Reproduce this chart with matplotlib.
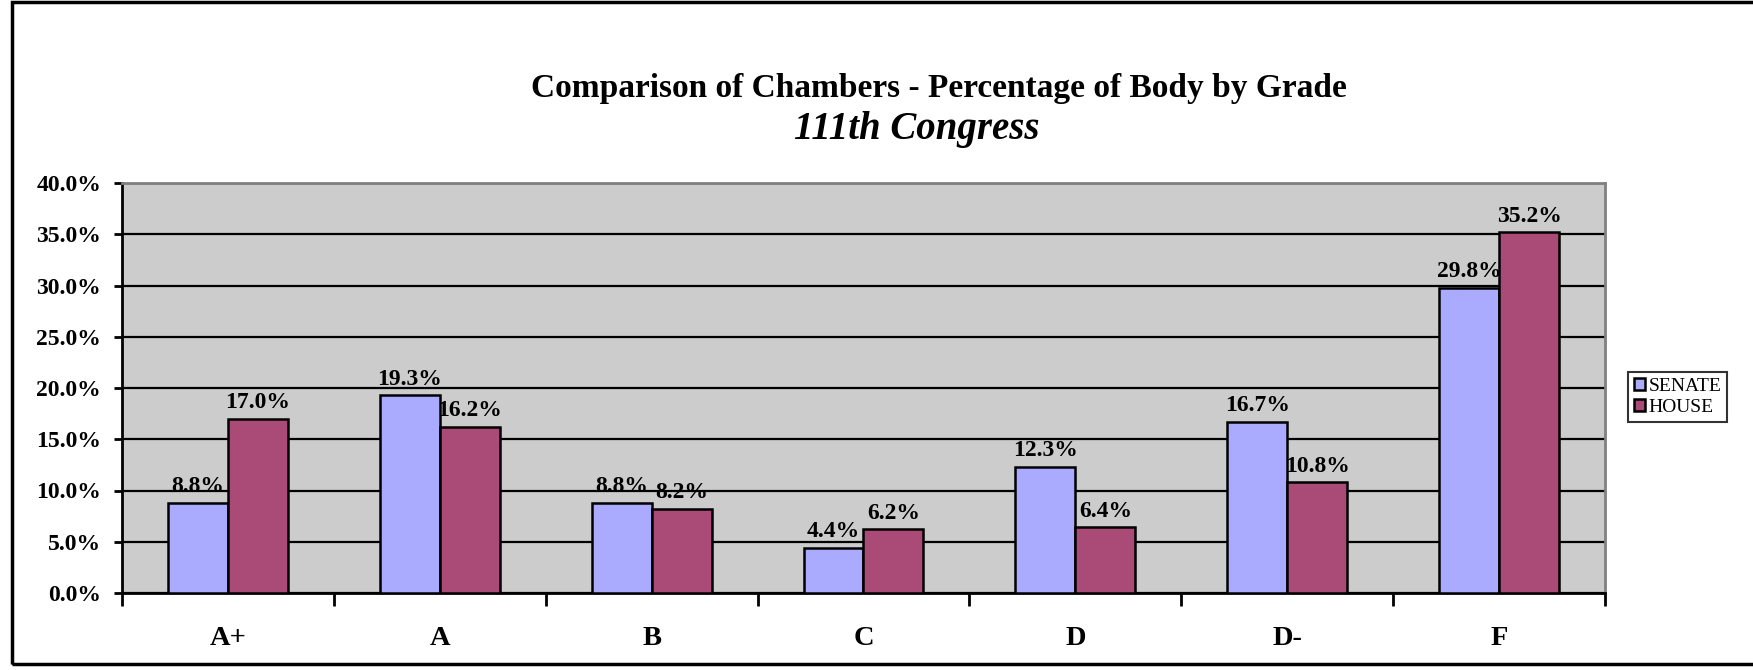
import matplotlib
matplotlib.use('Agg')
import matplotlib.pyplot as plt
import numpy as np
from matplotlib.patches import Rectangle
from matplotlib.ticker import FuncFormatter

grades = ['A+', 'A', 'B', 'C', 'D', 'D-', 'F']
senate = [8.8, 19.3, 8.8, 4.4, 12.3, 16.7, 29.8]
house = [17.0, 16.2, 8.2, 6.2, 6.4, 10.8, 35.2]
yticks = [0, 5, 10, 15, 20, 25, 30, 35, 40]

senate_color = '#AAAAFF'
house_color = '#AA4A77'

plt.rcParams['font.family'] = ['Liberation Serif', 'DejaVu Serif']

W, H = 1753, 670
fig = plt.figure(figsize=(W / 100, H / 100), dpi=100)

# outer chart border (open on the right, as in the original)
fig.add_artist(Rectangle((12 / W, 1 - 664 / H), 1.0, (664 - 2) / H,
                         transform=fig.transFigure, fill=False,
                         edgecolor='black', linewidth=2.5))

left, right, top, bottom = 122, 1605, 183, 593
ax = fig.add_axes([left / W, 1 - bottom / H, (right - left) / W, (bottom - top) / H])
ax.set_facecolor('#CCCCCC')

x = np.arange(len(grades))
bw = 0.283
b1 = ax.bar(x - bw / 2, senate, bw, color=senate_color, edgecolor='black', linewidth=1.8,
            label='SENATE', zorder=3)
b2 = ax.bar(x + bw / 2, house, bw, color=house_color, edgecolor='black', linewidth=1.8,
            label='HOUSE', zorder=3)

for bars, vals in ((b1, senate), (b2, house)):
    for rect, v in zip(bars, vals):
        ax.annotate('%.1f%%' % v, (rect.get_x() + rect.get_width() / 2, v),
                    xytext=(0, 4), textcoords='offset points', ha='center', va='bottom',
                    fontsize=17, fontweight='bold', zorder=4)

ax.set_xlim(-0.5, len(grades) - 0.5)
ax.set_ylim(0, 40)
ax.set_yticks(yticks)
ax.yaxis.set_major_formatter(FuncFormatter(lambda v, p: '%.1f%%' % v))
ax.grid(axis='y', color='black', linewidth=1.6, zorder=1)
ax.set_axisbelow(True)

ax.set_xticks(np.arange(len(grades) + 1) - 0.5)
ax.set_xticklabels([])
ax.set_xticks(x, minor=True)
ax.set_xticklabels(grades, minor=True)
ax.tick_params(axis='x', which='major', length=9, width=2, direction='out')
ax.tick_params(axis='x', which='minor', length=0, pad=24, labelsize=20.5)
ax.tick_params(axis='y', length=6, width=2, direction='out', labelsize=17, pad=9)
for lab in ax.get_xticklabels(minor=True) + ax.get_yticklabels():
    lab.set_fontweight('bold')

ax.spines['left'].set_linewidth(2)
ax.spines['bottom'].set_linewidth(2)
ax.spines['top'].set_color('#808080')
ax.spines['right'].set_color('#808080')
ax.spines['top'].set_linewidth(2)
ax.spines['right'].set_linewidth(2)

fig.text(939 / W, 1 - 88 / H, 'Comparison of Chambers - Percentage of Body by Grade',
         ha='center', va='center', fontsize=24, fontweight='bold')
fig.text(917 / W, 1 - 129 / H, '111th Congress', ha='center', va='center',
         fontsize=28, fontweight='bold', style='italic')

leg = fig.legend(handles=[b1, b2], loc='upper left',
                 bbox_to_anchor=(1628 / W, 1 - 372 / H), frameon=True, fancybox=False,
                 edgecolor='black', fontsize=14, handlelength=0.55, handleheight=0.55,
                 handletextpad=0.2, borderpad=0.3, labelspacing=0.2, borderaxespad=0)
leg.get_frame().set_linewidth(1.5)

fig.savefig('out.png', dpi=100)
